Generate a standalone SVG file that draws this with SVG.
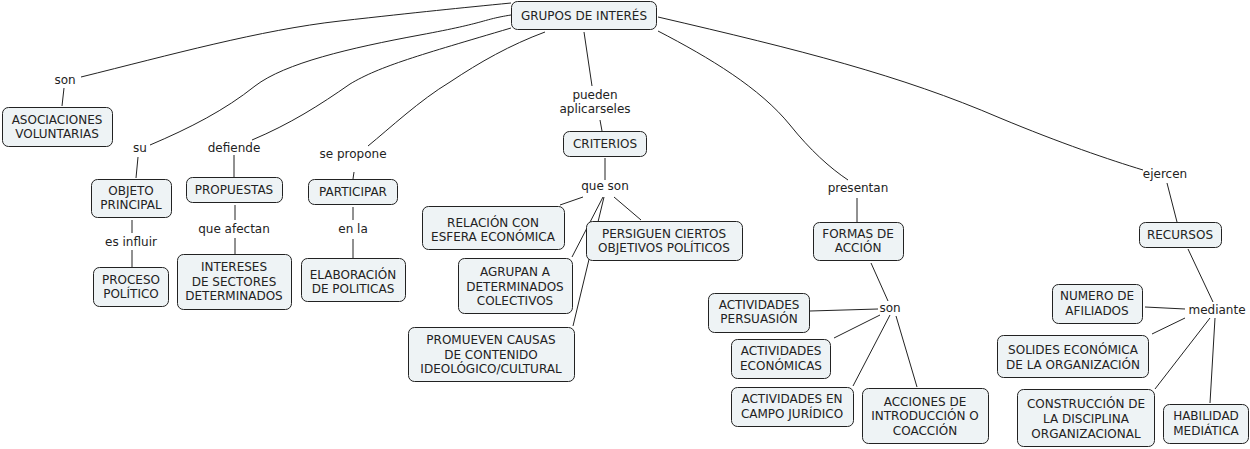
<svg xmlns="http://www.w3.org/2000/svg" width="1250" height="449" viewBox="0 0 1250 449">
<style>
.n rect{fill:#eef3f5;stroke:#222;stroke-width:1;}
text{font-family:"DejaVu Sans",Verdana,sans-serif;font-size:12px;fill:#222;text-anchor:middle;}
.c path,.c line{fill:none;stroke:#222;stroke-width:1;}
</style>
<rect width="1250" height="449" fill="#fff"/>
<g class="c" id="connectors">
<path d="M81,77 C170,55 260,30 340,21 S460,8 511,3"/>
<path d="M150,145 C190,128 225,110 255,86 C285,63 350,48 420,35 S480,20 511,15"/>
<path d="M252,140 C290,124 320,105 350,84 C380,66 420,55 511,28"/>
<path d="M368,146 C390,128 420,100 450,82 C480,62 510,45 545,32"/>
<line x1="584" y1="32" x2="592" y2="86"/>
<path d="M658,31 C710,58 760,88 790,125 C810,150 830,168 848,180"/>
<path d="M658,17 C800,50 900,75 1000,118 C1060,143 1110,160 1143,170"/>
<line x1="64" y1="88" x2="62" y2="106"/>
<line x1="138" y1="157" x2="136" y2="178"/>
<line x1="234" y1="155" x2="234" y2="177"/>
<line x1="354" y1="172" x2="353" y2="179"/>
<line x1="132" y1="220" x2="132" y2="233"/>
<line x1="132" y1="250" x2="132" y2="267"/>
<line x1="235" y1="205" x2="235" y2="220"/>
<line x1="235" y1="238" x2="235" y2="254"/>
<line x1="353" y1="207" x2="353" y2="220"/>
<line x1="353" y1="239" x2="353" y2="258"/>
<line x1="600" y1="120" x2="602" y2="131"/>
<line x1="605" y1="158" x2="605" y2="180"/>
<line x1="583" y1="197" x2="560" y2="205"/>
<line x1="614" y1="197" x2="641" y2="220"/>
<line x1="603" y1="197" x2="572" y2="257"/>
<line x1="604" y1="197" x2="573" y2="326"/>
<line x1="857" y1="198" x2="857" y2="222"/>
<line x1="871" y1="263" x2="888" y2="301"/>
<line x1="810" y1="311" x2="878" y2="309"/>
<line x1="834" y1="338" x2="880" y2="315"/>
<line x1="853" y1="386" x2="890" y2="315"/>
<line x1="896" y1="316" x2="917" y2="387"/>
<line x1="1167" y1="183" x2="1177" y2="222"/>
<line x1="1188" y1="249" x2="1213" y2="302"/>
<line x1="1145" y1="307" x2="1185" y2="309"/>
<line x1="1185" y1="318" x2="1152" y2="334"/>
<line x1="1210" y1="318" x2="1155" y2="389"/>
<line x1="1215" y1="318" x2="1210" y2="403"/>
</g>
<g id="labels">
<text x="65" y="84">son</text>
<text x="140" y="152">su</text>
<text x="234" y="152">defiende</text>
<text x="353" y="158">se propone</text>
<text x="131" y="246">es influir</text>
<text x="234" y="233">que afectan</text>
<text x="353" y="233">en la</text>
<text x="595" y="99">pueden</text>
<text x="595" y="113">aplicarseles</text>
<text x="605" y="190">que son</text>
<text x="858" y="192">presentan</text>
<text x="890" y="312">son</text>
<text x="1165" y="178">ejercen</text>
<text x="1217" y="314">mediante</text>
</g>
<g class="n" id="n-grupos"><rect x="511.5" y="1.5" width="145" height="28" rx="6"/><text x="584" y="20">GRUPOS DE INTERÉS</text></g>
<g class="n" id="n-asoc"><rect x="2.5" y="107.5" width="110" height="39" rx="6"/><text x="57" y="124">ASOCIACIONES</text><text x="57" y="138">VOLUNTARIAS</text></g>
<g class="n" id="n-objeto"><rect x="91.5" y="179.5" width="80" height="38" rx="6"/><text x="131" y="195">OBJETO</text><text x="131" y="209">PRINCIPAL</text></g>
<g class="n" id="n-propuestas"><rect x="186.5" y="177.5" width="96" height="25" rx="6"/><text x="234" y="194">PROPUESTAS</text></g>
<g class="n" id="n-participar"><rect x="308.5" y="179.5" width="89" height="25" rx="6"/><text x="353" y="196">PARTICIPAR</text></g>
<g class="n" id="n-proceso"><rect x="93.5" y="267.5" width="75" height="39" rx="6"/><text x="131" y="284">PROCESO</text><text x="131" y="298">POLÍTICO</text></g>
<g class="n" id="n-intereses"><rect x="177.5" y="254.5" width="114" height="55" rx="6"/><text x="234" y="271">INTERESES</text><text x="234" y="286">DE SECTORES</text><text x="234" y="300">DETERMINADOS</text></g>
<g class="n" id="n-elaboracion"><rect x="301.5" y="258.5" width="104" height="43" rx="6"/><text x="353" y="279">ELABORACIÓN</text><text x="353" y="293">DE POLITICAS</text></g>
<g class="n" id="n-criterios"><rect x="563.5" y="131.5" width="83" height="25" rx="6"/><text x="605" y="148">CRITERIOS</text></g>
<g class="n" id="n-relacion"><rect x="422.5" y="206.5" width="142" height="43" rx="6"/><text x="493" y="227">RELACIÓN CON</text><text x="493" y="241">ESFERA ECONÓMICA</text></g>
<g class="n" id="n-persiguen"><rect x="586.5" y="221.5" width="156" height="39" rx="6"/><text x="664" y="238">PERSIGUEN CIERTOS</text><text x="664" y="252">OBJETIVOS POLÍTICOS</text></g>
<g class="n" id="n-agrupan"><rect x="458.5" y="258.5" width="114" height="55" rx="6"/><text x="515" y="276">AGRUPAN A</text><text x="515" y="291">DETERMINADOS</text><text x="515" y="305">COLECTIVOS</text></g>
<g class="n" id="n-promueven"><rect x="408.5" y="327.5" width="166" height="54" rx="6"/><text x="491" y="344">PROMUEVEN CAUSAS</text><text x="491" y="359">DE CONTENIDO</text><text x="491" y="373">IDEOLÓGICO/CULTURAL</text></g>
<g class="n" id="n-formas"><rect x="813.5" y="222.5" width="90" height="38" rx="6"/><text x="858" y="238">FORMAS DE</text><text x="858" y="252">ACCIÓN</text></g>
<g class="n" id="n-persuasion"><rect x="708.5" y="293.5" width="101" height="39" rx="6"/><text x="759" y="309">ACTIVIDADES</text><text x="759" y="323">PERSUASIÓN</text></g>
<g class="n" id="n-economicas"><rect x="731.5" y="339.5" width="99" height="39" rx="6"/><text x="781" y="355">ACTIVIDADES</text><text x="781" y="370">ECONÓMICAS</text></g>
<g class="n" id="n-juridico"><rect x="731.5" y="387.5" width="122" height="39" rx="6"/><text x="792" y="403">ACTIVIDADES EN</text><text x="792" y="418">CAMPO JURÍDICO</text></g>
<g class="n" id="n-acciones"><rect x="862.5" y="388.5" width="126" height="55" rx="6"/><text x="925" y="406">ACCIONES DE</text><text x="925" y="420">INTRODUCCIÓN O</text><text x="925" y="435">COACCIÓN</text></g>
<g class="n" id="n-recursos"><rect x="1139.5" y="222.5" width="82" height="25" rx="6"/><text x="1180" y="239">RECURSOS</text></g>
<g class="n" id="n-numero"><rect x="1052.5" y="284.5" width="90" height="39" rx="6"/><text x="1097" y="300">NUMERO DE</text><text x="1097" y="315">AFILIADOS</text></g>
<g class="n" id="n-solides"><rect x="997.5" y="335.5" width="151" height="42" rx="6"/><text x="1073" y="354">SOLIDES ECONÓMICA</text><text x="1073" y="369">DE LA ORGANIZACIÓN</text></g>
<g class="n" id="n-construccion"><rect x="1017.5" y="389.5" width="137" height="57" rx="6"/><text x="1086" y="408">CONSTRUCCIÓN DE</text><text x="1086" y="423">LA DISCIPLINA</text><text x="1086" y="438">ORGANIZACIONAL</text></g>
<g class="n" id="n-habilidad"><rect x="1163.5" y="404.5" width="85" height="39" rx="6"/><text x="1206" y="420">HABILIDAD</text><text x="1206" y="435">MEDIÁTICA</text></g>
</svg>
